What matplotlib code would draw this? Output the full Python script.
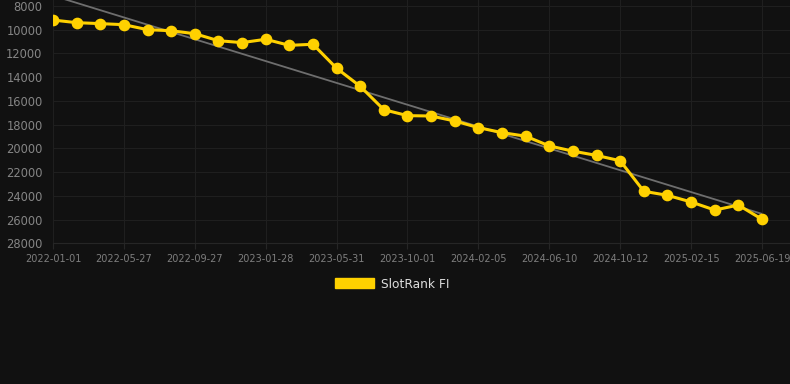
import matplotlib
matplotlib.use("Agg")
import matplotlib.pyplot as plt
from matplotlib.patches import Patch
import numpy as np

# --- data -------------------------------------------------------------
tick_labels = ["2022-01-01", "2022-05-27", "2022-09-27", "2023-01-28",
               "2023-05-31", "2023-10-01", "2024-02-05", "2024-06-10",
               "2024-10-12", "2025-02-15", "2025-06-19"]
ranks = [9200, 9420, 9500, 9590, 10010, 10100, 10350, 10940, 11100, 10820,
         11330, 11240, 13260, 14780, 16750, 17250, 17280, 17700, 18260, 18680,
         18980, 19800, 20240, 20600, 21050, 23620, 23960, 24520, 25200, 24780,
         25980]
series_name = "SlotRank FI"
y_ticks = list(range(8000, 28001, 2000))

# --- style ------------------------------------------------------------
BG = "#111111"
GRID = "#1f1f1f"
TXT = "#858585"
YEL = "#FFD100"

W, H = 790, 384
fig = plt.figure(figsize=(W / 100, H / 100), dpi=100, facecolor=BG)
ax = fig.add_axes([53 / W, 1 - 243.3 / H, (W - 53) / W, 243.3 / H])
ax.set_facecolor(BG)

x = np.arange(len(ranks))
coef = np.polyfit(x, ranks, 1)
ax.plot(x, np.polyval(coef, x), color="#6e6e6e", lw=1.3, zorder=2,
        solid_capstyle="butt")
ax.plot(x, ranks, color=YEL, lw=2.2, marker="o", markersize=7.4,
        markerfacecolor=YEL, markeredgecolor=YEL, zorder=3)

ax.set_xlim(0, 30 + (790 - 762) / 23.63)
ax.set_ylim(28000, 8000 - 5.8 / 11.875 * 1000)

ax.set_yticks(y_ticks)
ax.set_yticklabels([str(v) for v in y_ticks])
ax.set_xticks(x[::3])
ax.set_xticklabels(tick_labels)

ax.tick_params(axis="y", length=0, pad=7.5, labelsize=8.3, labelcolor=TXT)
ax.tick_params(axis="x", length=4.5, width=0.8, color="#262626", pad=3.2,
               labelsize=7, labelcolor="#7e7e7e")

ax.grid(True, color=GRID, lw=0.75)
ax.set_axisbelow(True)
for s in ["top", "right", "left"]:
    ax.spines[s].set_visible(False)
ax.spines["bottom"].set_color("#262626")
ax.spines["bottom"].set_linewidth(0.8)

leg = fig.legend([Patch(facecolor=YEL, edgecolor=YEL)], [series_name],
                 loc="center", bbox_to_anchor=(392.5 / W, 1 - 284 / H),
                 frameon=False, fontsize=8.8, handlelength=3.2,
                 handleheight=0.9, handletextpad=0.55, borderpad=0)
for t in leg.get_texts():
    t.set_color("#dddddd")

fig.savefig("out.png", dpi=100, facecolor=BG)
